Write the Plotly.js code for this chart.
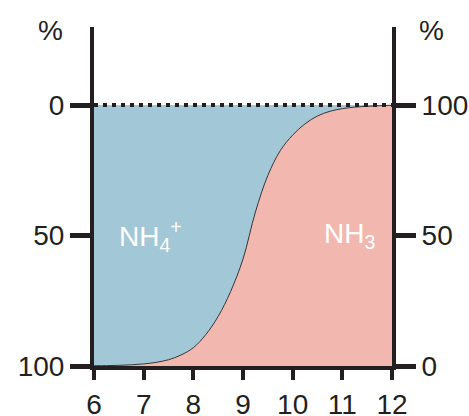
<!DOCTYPE html>
<html>
<head>
<meta charset="utf-8">
<script src="https://cdn.plot.ly/plotly-3.0.1.min.js"></script>
<style>
  html, body { margin: 0; padding: 0; background: #ffffff; }
  #chart { width: 469px; height: 416px; }
</style>
</head>
<body>
<div id="chart"></div>
<script>
// pH values (x axis)
var pH = [6, 6.25, 6.5, 6.75, 7, 7.25, 7.5, 7.75, 8, 8.25, 8.5, 8.75, 9,
          9.25, 9.5, 9.75, 10, 10.25, 10.5, 10.75, 11, 11.25, 11.5, 11.75, 12];
// NH3 share in % (right axis, 0 at bottom)
var nh3 = [0.1, 0.15, 0.25, 0.45, 0.8, 1.4, 2.4, 4.2, 7, 12, 19, 28.5, 41,
           59, 73, 82.5, 88.5, 92.8, 95.8, 97.6, 98.6, 99.2, 99.5, 99.75, 99.9];
// NH4+ share in % (left axis, 0 at top)
var nh4 = [99.9, 99.85, 99.75, 99.55, 99.2, 98.6, 97.6, 95.8, 93, 88, 81, 71.5, 59,
           41, 27, 17.5, 11.5, 7.2, 4.2, 2.4, 1.4, 0.8, 0.5, 0.25, 0.1];

var xTicks = [6, 7, 8, 9, 10, 11, 12];
var leftTicks = [0, 50, 100];
var rightTicks = [0, 50, 100];

var ink = '#231f20';
var fontFam = '"Liberation Sans", Arial, Helvetica, sans-serif';

var traces = [
  {
    x: pH, y: nh4, xaxis: 'x', yaxis: 'y',
    type: 'scatter', mode: 'lines',
    line: {width: 0, shape: 'spline', smoothing: 1, color: 'rgba(0,0,0,0)'},
    fill: 'tozeroy', fillcolor: '#a2c7d6',
    hoverinfo: 'skip', showlegend: false
  },
  {
    x: pH, y: nh3, xaxis: 'x', yaxis: 'y2',
    type: 'scatter', mode: 'lines',
    line: {width: 1, shape: 'spline', smoothing: 1, color: '#333333'},
    fill: 'tozeroy', fillcolor: '#f2b8b0',
    hoverinfo: 'skip', showlegend: false
  }
];

var axisCommon = {
  showgrid: false, zeroline: false, showline: true,
  linecolor: ink, linewidth: 4,
  ticks: 'outside', tickcolor: ink,
  tickfont: {family: fontFam, size: 28, color: ink},
  fixedrange: true
};

var layout = {
  width: 469, height: 416,
  margin: {l: 94, r: 77, t: 27, b: 50, pad: 0},
  paper_bgcolor: '#ffffff', plot_bgcolor: 'rgba(0,0,0,0)',
  showlegend: false,
  xaxis: Object.assign({}, axisCommon, {
    range: [6, 12], tickmode: 'array', tickvals: xTicks,
    ticktext: xTicks.map(String), ticklen: 10, tickwidth: 4
  }),
  yaxis: Object.assign({}, axisCommon, {
    range: [100, -29.9], tickmode: 'array', tickvals: leftTicks,
    ticktext: leftTicks.map(String), ticklen: 20, tickwidth: 5, side: 'left'
  }),
  yaxis2: Object.assign({}, axisCommon, {
    range: [0, 129.9], tickmode: 'array', tickvals: rightTicks,
    ticktext: rightTicks.map(String), ticklen: 20, tickwidth: 5,
    side: 'right', overlaying: 'y'
  }),
  shapes: [
    {
      type: 'line', xref: 'paper', x0: 0, x1: 1, yref: 'y', y0: 0, y1: 0,
      line: {color: ink, width: 4, dash: '4px,5px'}, layer: 'above'
    }
  ],
  annotations: [
    {text: '%', xref: 'paper', yref: 'paper', x: -0.146, y: 0.99, xanchor: 'center', yanchor: 'middle',
     showarrow: false, font: {family: fontFam, size: 28, color: ink}},
    {text: '%', xref: 'paper', yref: 'paper', x: 1.134, y: 0.99, xanchor: 'center', yanchor: 'middle',
     showarrow: false, font: {family: fontFam, size: 28, color: ink}},
    {text: 'NH<sub>4</sub><sup>+</sup>', xref: 'x', yref: 'y', x: 6.46, y: 50, xanchor: 'left', yanchor: 'middle',
     showarrow: false, font: {family: fontFam, size: 28, color: '#ffffff'}},
    {text: 'NH<sub>3</sub>', xref: 'x', yref: 'y', x: 10.6, y: 50, xanchor: 'left', yanchor: 'middle',
     showarrow: false, font: {family: fontFam, size: 28, color: '#ffffff'}}
  ]
};

Plotly.newPlot('chart', traces, layout, {displayModeBar: false, staticPlot: true});
</script>
</body>
</html>
